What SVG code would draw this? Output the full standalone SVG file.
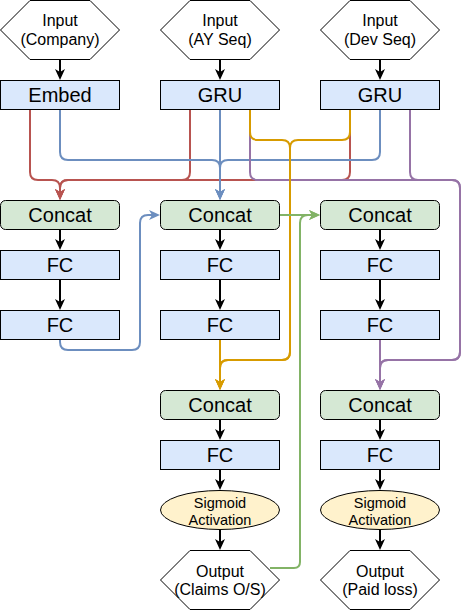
<svg xmlns="http://www.w3.org/2000/svg" width="470" height="611" viewBox="0 0 470 611">
<defs>
<style>
.hex{fill:#ffffff;stroke:#000;stroke-width:1}
.blue{fill:#dae8fc;stroke:#000;stroke-width:1}
.green{fill:#d5e8d4;stroke:#000;stroke-width:1}
.yellow{fill:#fff2cc;stroke:#000;stroke-width:1}
.t{font-family:"Liberation Sans",Arial,sans-serif;text-anchor:middle;fill:#000}
.big{font-size:20px}
.mid{font-size:16px}
.sm{font-size:14.5px}
.e{fill:none;stroke-width:2}
.k{stroke:#000;stroke-width:2;fill:none;marker-end:url(#ak)}
.r{stroke:#b85450;marker-end:url(#ar)}
.b{stroke:#6c8ebf;marker-end:url(#ab)}
.o{stroke:#d79b00;marker-end:url(#ao)}
.p{stroke:#9673a6;marker-end:url(#ap)}
.g{stroke:#82b366;marker-end:url(#ag)}
</style>
<marker id="ak" markerUnits="userSpaceOnUse" markerWidth="12" markerHeight="11" refX="7" refY="5" orient="auto"><path d="M0,0 L11,5 L0,10 L3,5 Z" fill="#000"/></marker>
<marker id="ar" markerUnits="userSpaceOnUse" markerWidth="12" markerHeight="11" refX="7" refY="5" orient="auto"><path d="M0,0 L11,5 L0,10 L3,5 Z" fill="#b85450"/></marker>
<marker id="ab" markerUnits="userSpaceOnUse" markerWidth="12" markerHeight="11" refX="7" refY="5" orient="auto"><path d="M0,0 L11,5 L0,10 L3,5 Z" fill="#6c8ebf"/></marker>
<marker id="ao" markerUnits="userSpaceOnUse" markerWidth="12" markerHeight="11" refX="7" refY="5" orient="auto"><path d="M0,0 L11,5 L0,10 L3,5 Z" fill="#d79b00"/></marker>
<marker id="ap" markerUnits="userSpaceOnUse" markerWidth="12" markerHeight="11" refX="7" refY="5" orient="auto"><path d="M0,0 L11,5 L0,10 L3,5 Z" fill="#9673a6"/></marker>
<marker id="ag" markerUnits="userSpaceOnUse" markerWidth="12" markerHeight="11" refX="7" refY="5" orient="auto"><path d="M0,0 L11,5 L0,10 L3,5 Z" fill="#82b366"/></marker>
</defs>
<rect width="470" height="611" fill="#fff"/>

<g id="connectors">
<g class="e">
<path class="r" d="M30,110 V172 Q30,180 38,180 H52 Q60,180 60,188 V196"/>
<path class="r" d="M190,110 V172 Q190,180 182,180 H68 Q60,180 60,188 V196"/>
<path class="r" d="M350,110 V172 Q350,180 342,180 H68 Q60,180 60,188 V196"/>
<path class="b" d="M60,110 V152 Q60,160 68,160 H212 Q220,160 220,168 V196"/>
<path class="b" d="M220,110 V196"/>
<path class="b" d="M380,110 V152 Q380,160 372,160 H228 Q220,160 220,168 V196"/>
<path class="b" d="M60,340 V342 Q60,350 68,350 H132 Q140,350 140,342 V223 Q140,215 148,215 H156"/>
<path class="p" d="M250,110 V172 Q250,180 258,180 H452 Q460,180 460,188 V352 Q460,360 452,360 H388 Q380,360 380,368 V386"/>
<path class="p" d="M410,110 V172 Q410,180 418,180 H452 Q460,180 460,188 V352 Q460,360 452,360 H388 Q380,360 380,368 V386"/>
<path class="p" d="M380,340 V386"/>
<path class="o" d="M250,110 V132 Q250,140 258,140 H282 Q290,140 290,148 V352 Q290,360 282,360 H228 Q220,360 220,368 V386"/>
<path class="o" d="M350,110 V132 Q350,140 342,140 H298 Q290,140 290,148 V352 Q290,360 282,360 H228 Q220,360 220,368 V386"/>
<path class="o" d="M220,340 V386"/>
<path class="g" d="M280,215 H316"/>
<path class="g" d="M270,568 H294 Q300,568 300,562 V223 Q300,215 308,215 H316"/>
</g>
<path class="k" d="M60,60 V76"/>
<path class="k" d="M220,60 V76"/>
<path class="k" d="M380,60 V76"/>
<path class="k" d="M60,230 V246"/>
<path class="k" d="M220,230 V246"/>
<path class="k" d="M380,230 V246"/>
<path class="k" d="M60,280 V306"/>
<path class="k" d="M220,280 V306"/>
<path class="k" d="M380,280 V306"/>
<path class="k" d="M220,420 V436"/>
<path class="k" d="M380,420 V436"/>
<path class="k" d="M220,470 V486"/>
<path class="k" d="M380,470 V486"/>
<path class="k" d="M220,530 V546"/>
<path class="k" d="M380,530 V546"/>
</g>

<g id="in-company"><polygon class="hex" points="0.5,30 30,0.5 90,0.5 119.5,30 90,59.5 30,59.5"/><text class="t mid" x="60" y="26">Input</text><text class="t mid" x="60" y="45">(Company)</text></g>
<g id="in-ay"><polygon class="hex" points="160.5,30 190,0.5 250,0.5 279.5,30 250,59.5 190,59.5"/><text class="t mid" x="220" y="26">Input</text><text class="t mid" x="220" y="45">(AY Seq)</text></g>
<g id="in-dev"><polygon class="hex" points="320.5,30 350,0.5 410,0.5 439.5,30 410,59.5 350,59.5"/><text class="t mid" x="380" y="26">Input</text><text class="t mid" x="380" y="45">(Dev Seq)</text></g>

<g id="embed"><rect class="blue" x="0.5" y="80.5" width="119" height="29"/><text class="t big" x="60" y="102">Embed</text></g>
<g id="gru-ay"><rect class="blue" x="160.5" y="80.5" width="119" height="29"/><text class="t big" x="220" y="102">GRU</text></g>
<g id="gru-dev"><rect class="blue" x="320.5" y="80.5" width="119" height="29"/><text class="t big" x="380" y="102">GRU</text></g>

<g id="concat1"><rect class="green" x="0.5" y="200.5" width="119" height="29" rx="5"/><text class="t big" x="60" y="222">Concat</text></g>
<g id="concat2"><rect class="green" x="160.5" y="200.5" width="119" height="29" rx="5"/><text class="t big" x="220" y="222">Concat</text></g>
<g id="concat3"><rect class="green" x="320.5" y="200.5" width="119" height="29" rx="5"/><text class="t big" x="380" y="222">Concat</text></g>

<g id="fc1a"><rect class="blue" x="0.5" y="250.5" width="119" height="29"/><text class="t big" x="60" y="272">FC</text></g>
<g id="fc2a"><rect class="blue" x="160.5" y="250.5" width="119" height="29"/><text class="t big" x="220" y="272">FC</text></g>
<g id="fc3a"><rect class="blue" x="320.5" y="250.5" width="119" height="29"/><text class="t big" x="380" y="272">FC</text></g>

<g id="fc1b"><rect class="blue" x="0.5" y="310.5" width="119" height="29"/><text class="t big" x="60" y="332">FC</text></g>
<g id="fc2b"><rect class="blue" x="160.5" y="310.5" width="119" height="29"/><text class="t big" x="220" y="332">FC</text></g>
<g id="fc3b"><rect class="blue" x="320.5" y="310.5" width="119" height="29"/><text class="t big" x="380" y="332">FC</text></g>

<g id="concat4"><rect class="green" x="160.5" y="390.5" width="119" height="29" rx="5"/><text class="t big" x="220" y="412">Concat</text></g>
<g id="concat5"><rect class="green" x="320.5" y="390.5" width="119" height="29" rx="5"/><text class="t big" x="380" y="412">Concat</text></g>

<g id="fc4"><rect class="blue" x="160.5" y="440.5" width="119" height="29"/><text class="t big" x="220" y="462">FC</text></g>
<g id="fc5"><rect class="blue" x="320.5" y="440.5" width="119" height="29"/><text class="t big" x="380" y="462">FC</text></g>

<g id="sig1"><ellipse class="yellow" cx="220" cy="510" rx="59.5" ry="19.5"/><text class="t sm" x="220" y="508">Sigmoid</text><text class="t sm" x="220" y="524.5">Activation</text></g>
<g id="sig2"><ellipse class="yellow" cx="380" cy="510" rx="59.5" ry="19.5"/><text class="t sm" x="380" y="508">Sigmoid</text><text class="t sm" x="380" y="524.5">Activation</text></g>

<g id="out-claims"><polygon class="hex" points="160.5,580 190,550.5 250,550.5 279.5,580 250,609.5 190,609.5"/><text class="t mid" x="220" y="576.5">Output</text><text class="t mid" x="220" y="595">(Claims O/S)</text></g>
<g id="out-paid"><polygon class="hex" points="320.5,580 350,550.5 410,550.5 439.5,580 410,609.5 350,609.5"/><text class="t mid" x="380" y="576.5">Output</text><text class="t mid" x="380" y="595">(Paid loss)</text></g>
</svg>
